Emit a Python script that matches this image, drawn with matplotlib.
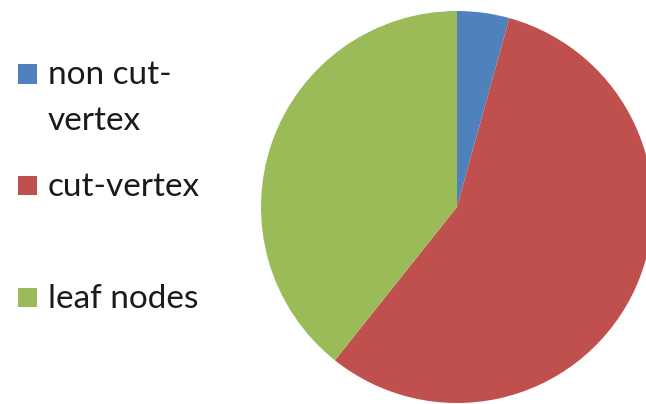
import matplotlib
matplotlib.use("Agg")
import matplotlib.pyplot as plt
from matplotlib.patches import Rectangle

labels = ["non cut-\nvertex", "cut-vertex", "leaf nodes"]
values = [4.3, 56.4, 39.3]
colors = ["#4F81BD", "#C0504D", "#9BBB59"]

W, H = 646, 404
fig = plt.figure(figsize=(W / 100, H / 100), dpi=100)
fig.patch.set_facecolor("white")

# pie axes: center (457, 207) px from top-left, radius 196 px
cx, cy, r = 457, 207, 196
ax = fig.add_axes([(cx - r) / W, (H - cy - r) / H, 2 * r / W, 2 * r / H])
ax.pie(values, colors=colors, startangle=90, counterclock=False, radius=1,
       wedgeprops=dict(linewidth=0))
ax.set_xlim(-1, 1)
ax.set_ylim(-1, 1)
ax.set_aspect("auto")
ax.axis("off")

# legend drawn manually (square + text lines)
baselines = [84.5, 196, 308]
line_step = 45.5
sq_x, sq_size = 18, 19
txt_x = 48
for lab, col, base in zip(labels, colors, baselines):
    sq_top = base - 20
    fig.patches.append(Rectangle((sq_x / W, (H - sq_top - sq_size) / H), sq_size / W, sq_size / H,
                                 transform=fig.transFigure, facecolor=col, edgecolor="none"))
    for i, line in enumerate(lab.split("\n")):
        y = base + i * line_step
        fig.text(txt_x / W, (H - y) / H, line, ha="left", va="baseline",
                 fontsize=24, family=["Lato", "DejaVu Sans"], color="#1a1a1a")

fig.savefig("out.png", dpi=100)
